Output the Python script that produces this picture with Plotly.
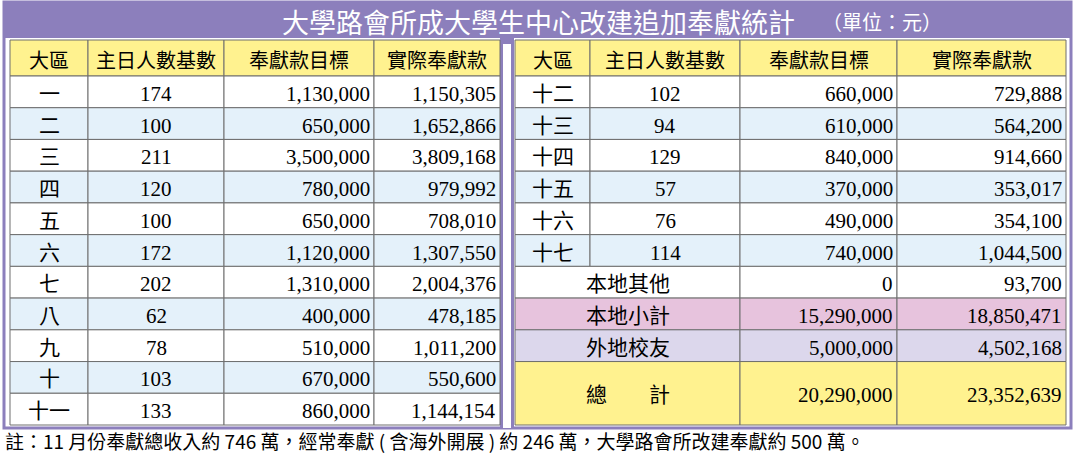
import plotly.graph_objects as go

title = "大學路會所成大學生中心改建追加奉獻統計"
unit = "（單位：元）"
headers = ["大區", "主日人數基數", "奉獻款目標", "實際奉獻款"]

left_region = ["一", "二", "三", "四", "五", "六", "七", "八", "九", "十", "十一"]
left_count = [174, 100, 211, 120, 100, 172, 202, 62, 78, 103, 133]
left_target = [1130000, 650000, 3500000, 780000, 650000, 1120000, 1310000, 400000, 510000, 670000, 860000]
left_actual = [1150305, 1652866, 3809168, 979992, 708010, 1307550, 2004376, 478185, 1011200, 550600, 1144154]

right_region = ["十二", "十三", "十四", "十五", "十六", "十七"]
right_count = [102, 94, 129, 57, 76, 114]
right_target = [660000, 610000, 840000, 370000, 490000, 740000]
right_actual = [729888, 564200, 914660, 353017, 354100, 1044500]

summary_labels = ["本地其他", "本地小計", "外地校友", "總　　計"]
summary_target = [0, 15290000, 5000000, 20290000]
summary_actual = [93700, 18850471, 4502168, 23352639]

note = "註：11 月份奉獻總收入約 746 萬，經常奉獻 ( 含海外開展 ) 約 246 萬，大學路會所改建奉獻約 500 萬。"

W, H = 1076, 454
PURPLE = "#8C7FBC"
YELLOW = "#FFF28F"
BLUE = "#E4F1FA"
GRID = "#6E6E6E"
CJK = "Noto Sans CJK TC"
SERIF = "Liberation Serif"

shapes, ann = [], []


def cell(x0, x1, y0, y1, fill):
    shapes.append(dict(type="rect", x0=x0, x1=x1, y0=y0, y1=y1, fillcolor=fill,
                       line=dict(color=GRID, width=1), layer="below"))


def text(x, y, s, align="center", font=SERIF, size=21, color="black"):
    ann.append(dict(x=x, y=y, text=s, showarrow=False, xanchor=align, yanchor="middle",
                    font=dict(family=font, size=size, color=color)))


# frame and title bar
shapes.append(dict(type="rect", x0=4, x1=1071, y0=2, y1=428, fillcolor="white",
                   line=dict(color=PURPLE, width=3), layer="below"))
shapes.append(dict(type="rect", x0=4, x1=1071, y0=2, y1=38, fillcolor=PURPLE,
                   line=dict(width=0), layer="below"))
shapes.append(dict(type="rect", x0=500, x1=514, y0=38, y1=428, fillcolor=PURPLE,
                   line=dict(width=0), layer="below"))
shapes.append(dict(type="rect", x0=503, x1=511, y0=44, y1=428, fillcolor="white",
                   line=dict(width=0), layer="below"))
text(538, 21, title, font=CJK, size=27, color="white")
text(882, 21, unit, font=CJK, size=20, color="white")

LX = [10, 88, 224, 374, 500]
RX = [515, 590, 740, 897, 1066]
HY0, HY1 = 40, 76
RH = (425 - HY1) / 11


def row_y(i):
    return HY1 + i * RH


fmt = "{:,}".format

for xs in (LX, RX):
    for j, h in enumerate(headers):
        cell(xs[j], xs[j + 1], HY0, HY1, YELLOW)
        text((xs[j] + xs[j + 1]) / 2, (HY0 + HY1) / 2 + 1, h, font=CJK, size=20)


def data_rows(xs, regions, counts, targets, actuals):
    for i in range(len(regions)):
        y0, y1 = row_y(i), row_y(i + 1)
        ym = (y0 + y1) / 2 + 2
        fill = "white" if i % 2 == 0 else BLUE
        for j in range(4):
            cell(xs[j], xs[j + 1], y0, y1, fill)
        text((xs[0] + xs[1]) / 2, ym - 2, regions[i], font=CJK, size=21)
        text((xs[1] + xs[2]) / 2, ym, str(counts[i]))
        text(xs[3] - 2, ym, fmt(targets[i]), align="right")
        text(xs[4] - 2, ym, fmt(actuals[i]), align="right")


data_rows(LX, left_region, left_count, left_target, left_actual)
data_rows(RX, right_region, right_count, right_target, right_actual)

sum_fill = ["white", "#E7C3DD", "#DCD7EC", YELLOW]
n = len(right_region)
for k, lab in enumerate(summary_labels):
    y0 = row_y(n + k)
    y1 = row_y(n + k + 1) if k < 3 else row_y(11)
    ym = (y0 + y1) / 2
    cell(RX[0], RX[2], y0, y1, sum_fill[k])
    cell(RX[2], RX[3], y0, y1, sum_fill[k])
    cell(RX[3], RX[4], y0, y1, sum_fill[k])
    text((RX[0] + RX[2]) / 2, ym, lab, font=CJK, size=21)
    text(RX[3] - 2, ym + 2, fmt(summary_target[k]), align="right")
    text(RX[4] - 2, ym + 2, fmt(summary_actual[k]), align="right")

text(3, 440, note, align="left", font=CJK, size=19)

fig = go.Figure()
fig.update_layout(
    width=W, height=H, margin=dict(l=0, r=0, t=0, b=0),
    paper_bgcolor="white", plot_bgcolor="white",
    xaxis=dict(range=[0, W], visible=False, fixedrange=True),
    yaxis=dict(range=[H, 0], visible=False, fixedrange=True),
    shapes=shapes, annotations=ann, showlegend=False,
)
fig.write_html("out.html", config={"displayModeBar": False},
               post_script="document.body.style.margin='0';document.body.style.overflow='hidden';")
